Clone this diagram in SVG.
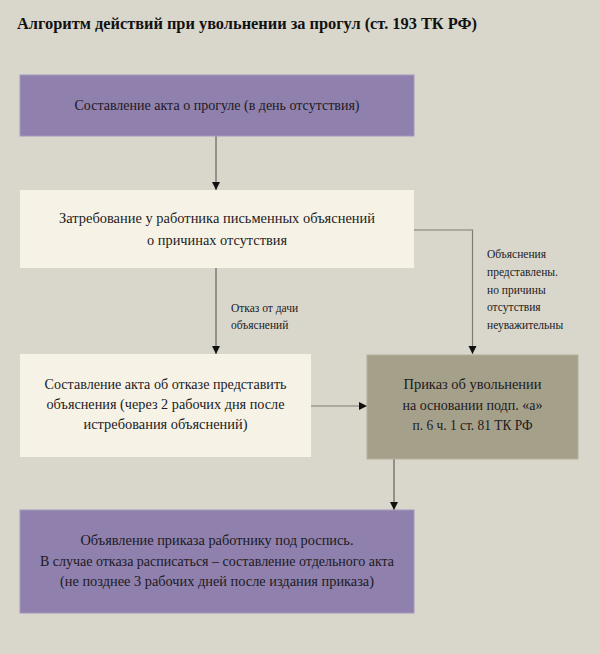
<svg xmlns="http://www.w3.org/2000/svg" width="600" height="654" viewBox="0 0 600 654">
<defs>
<marker id="ah" viewBox="0 0 8 10" refX="8" refY="5" markerWidth="8" markerHeight="10" markerUnits="userSpaceOnUse" orient="auto">
<path d="M0,1 L8,5 L0,9 Z" fill="#111"/>
</marker>
</defs>
<style>
.t{font-family:"Liberation Serif","Times New Roman",serif;font-size:15px;fill:#1c1a1e;text-anchor:middle}
.lbl{font-family:"Liberation Serif","Times New Roman",serif;font-size:11.5px;fill:#1c1a1e}
.title{font-family:"Liberation Serif","Times New Roman",serif;font-size:16px;font-weight:bold;fill:#111}
.purple{fill:#8f80ad;stroke:#a397bd;stroke-width:1}
.cream{fill:#f6f3e6}
.olive{fill:#a5a08a;stroke:#b5b09c;stroke-width:1}
.ln{fill:none;stroke:#4a4a48;stroke-width:1}
.lng{fill:none;stroke:#7e7c74;stroke-width:1.2}
</style>
<rect x="0" y="0" width="600" height="654" fill="#d9d7cb"/>
<text class="title" x="17" y="29" textLength="460" lengthAdjust="spacingAndGlyphs">Алгоритм действий при увольнении за прогул (ст. 193 ТК РФ)</text>
<g id="connectors">
<line class="ln" x1="216" y1="136" x2="216" y2="190" marker-end="url(#ah)"/>
<polyline class="lng" points="414,230 472.5,230 472.5,354" marker-end="url(#ah)"/>
<line class="ln" x1="216" y1="268" x2="216" y2="354" marker-end="url(#ah)"/>
<line class="lng" x1="311" y1="406" x2="367" y2="406" marker-end="url(#ah)"/>
<line class="ln" x1="394" y1="459" x2="394" y2="510" marker-end="url(#ah)"/>
<text class="lbl" x="231" y="312">Отказ от дачи</text>
<text class="lbl" x="231" y="329">объяснений</text>
<text class="lbl" x="487" y="258">Объяснения</text>
<text class="lbl" x="487" y="276">представлены.</text>
<text class="lbl" x="487" y="294">но причины</text>
<text class="lbl" x="487" y="311">отсутствия</text>
<text class="lbl" x="487" y="329">неуважительны</text>
</g>
<g id="n1">
<rect class="purple" x="20" y="75" width="394" height="61"/>
<text class="t" x="217" y="110" textLength="285" lengthAdjust="spacingAndGlyphs">Составление акта о прогуле (в день отсутствия)</text>
</g>
<g id="n2">
<rect class="cream" x="20" y="190" width="394" height="78"/>
<text class="t" x="217" y="223" textLength="316" lengthAdjust="spacingAndGlyphs">Затребование у работника письменных объяснений</text>
<text class="t" x="217" y="245" textLength="140" lengthAdjust="spacingAndGlyphs">о причинах отсутствия</text>
</g>
<g id="n3">
<rect class="cream" x="20" y="354" width="291" height="103"/>
<text class="t" x="165.5" y="389" textLength="242" lengthAdjust="spacingAndGlyphs">Составление акта об отказе представить</text>
<text class="t" x="165.5" y="409" textLength="238" lengthAdjust="spacingAndGlyphs">объяснения (через 2 рабочих дня после</text>
<text class="t" x="165.5" y="429" textLength="164" lengthAdjust="spacingAndGlyphs">истребования объяснений)</text>
</g>
<g id="n4">
<rect class="olive" x="367" y="355" width="211" height="104"/>
<text class="t" x="472.5" y="389" textLength="138" lengthAdjust="spacingAndGlyphs">Приказ об увольнении</text>
<text class="t" x="472.5" y="410" textLength="140" lengthAdjust="spacingAndGlyphs">на основании подп. «а»</text>
<text class="t" x="472.5" y="430" textLength="120" lengthAdjust="spacingAndGlyphs">п. 6 ч. 1 ст. 81 ТК РФ</text>
</g>
<g id="n5">
<rect class="purple" x="20" y="510" width="394" height="103"/>
<text class="t" x="217" y="545" textLength="273" lengthAdjust="spacingAndGlyphs">Объявление приказа работнику под роспись.</text>
<text class="t" x="217" y="566" textLength="354" lengthAdjust="spacingAndGlyphs">В случае отказа расписаться – составление отдельного акта</text>
<text class="t" x="217" y="586" textLength="314" lengthAdjust="spacingAndGlyphs">(не позднее 3 рабочих дней после издания приказа)</text>
</g>
</svg>
